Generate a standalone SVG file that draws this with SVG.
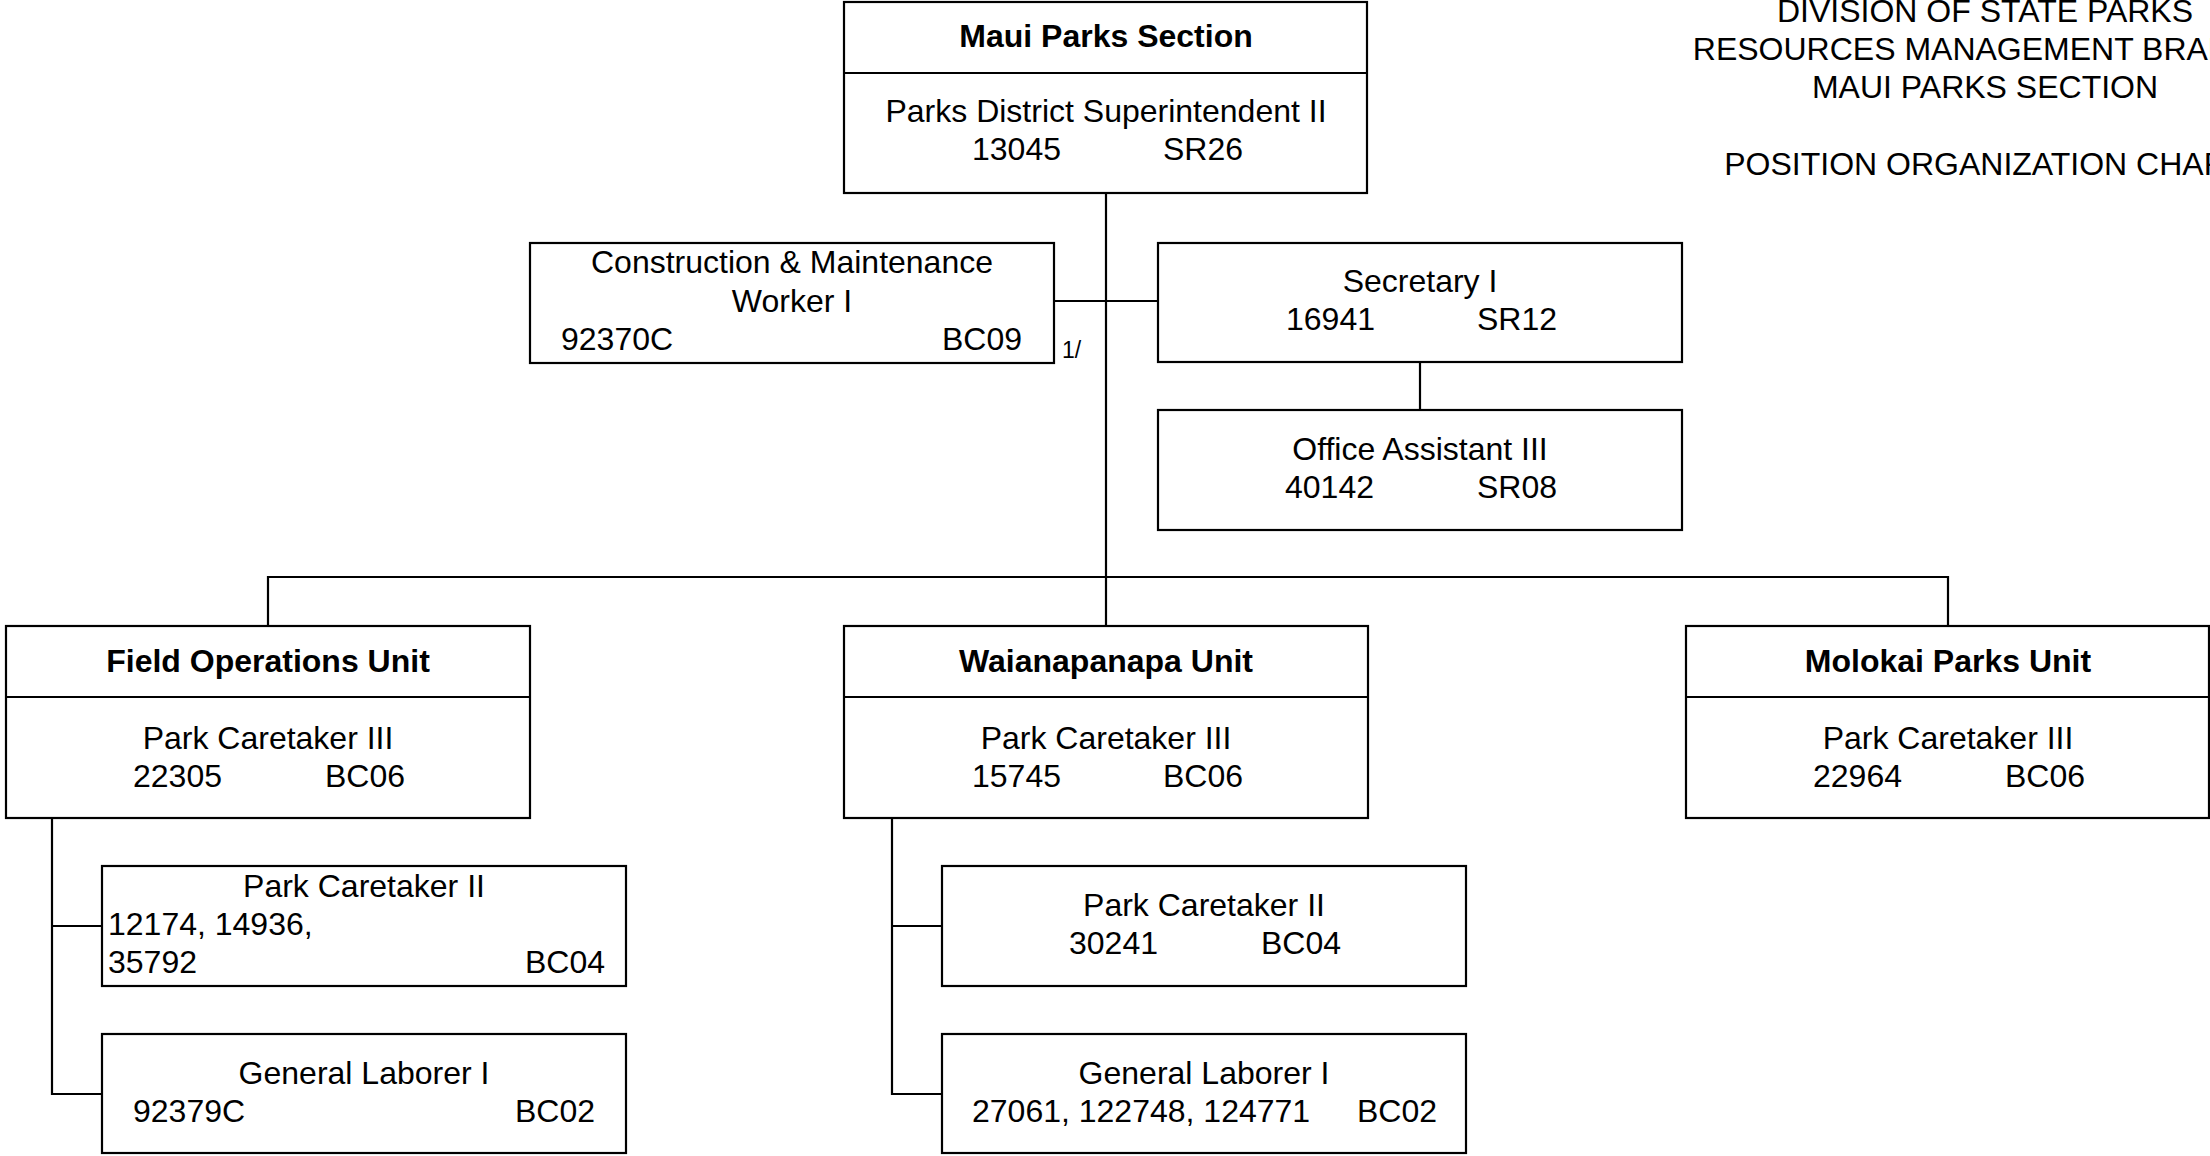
<svg xmlns="http://www.w3.org/2000/svg" width="2210" height="1156" viewBox="0 0 2210 1156">
<style>
  .box { fill: #ffffff; stroke: #000000; stroke-width: 2.2; }
  .ln { fill: none; stroke: #000000; stroke-width: 2.2; }
  text { font-family: "Liberation Sans", Arial, sans-serif; font-size: 32px; fill: #000000; }
  .b { font-weight: bold; }
  .c { text-anchor: middle; }
  .e { text-anchor: end; }
  .sm { font-size: 23px; }
</style>
<rect width="2210" height="1156" fill="#ffffff"/>

<g id="header">
  <text class="c" x="1985" y="22">DIVISION OF STATE PARKS</text>
  <text class="c" x="1985" y="60">RESOURCES MANAGEMENT BRANCH</text>
  <text class="c" x="1985" y="98">MAUI PARKS SECTION</text>
  <text class="c" x="1985" y="175">POSITION ORGANIZATION CHART</text>
</g>

<g id="connectors">
  <line class="ln" x1="1106" y1="193" x2="1106" y2="626"/>
  <line class="ln" x1="1054" y1="301" x2="1158" y2="301"/>
  <line class="ln" x1="1420" y1="362" x2="1420" y2="410"/>
  <polyline class="ln" points="268,626 268,577 1948,577 1948,626"/>
  <polyline class="ln" points="52,818 52,1094 102,1094"/>
  <line class="ln" x1="52" y1="926" x2="102" y2="926"/>
  <polyline class="ln" points="892,818 892,1094 942,1094"/>
  <line class="ln" x1="892" y1="926" x2="942" y2="926"/>
  <text class="sm" x="1062" y="358">1/</text>
</g>

<g id="maui-parks-section">
  <rect class="box" x="844" y="2" width="523" height="191"/>
  <line class="ln" x1="844" y1="73" x2="1367" y2="73"/>
  <text class="b c" x="1106" y="47">Maui Parks Section</text>
  <text class="c" x="1106" y="122">Parks District Superintendent II</text>
  <text x="972" y="160">13045</text>
  <text x="1163" y="160">SR26</text>
</g>

<g id="construction-maintenance-worker">
  <rect class="box" x="530" y="243" width="524" height="120"/>
  <text class="c" x="792" y="273">Construction &amp; Maintenance</text>
  <text class="c" x="792" y="312">Worker I</text>
  <text x="561" y="350">92370C</text>
  <text class="e" x="1022" y="350">BC09</text>
</g>

<g id="secretary">
  <rect class="box" x="1158" y="243" width="524" height="119"/>
  <text class="c" x="1420" y="292">Secretary I</text>
  <text x="1286" y="330">16941</text>
  <text x="1477" y="330">SR12</text>
</g>

<g id="office-assistant">
  <rect class="box" x="1158" y="410" width="524" height="120"/>
  <text class="c" x="1420" y="460">Office Assistant III</text>
  <text x="1285" y="498">40142</text>
  <text x="1477" y="498">SR08</text>
</g>

<g id="field-operations-unit">
  <rect class="box" x="6" y="626" width="524" height="192"/>
  <line class="ln" x1="6" y1="697" x2="530" y2="697"/>
  <text class="b c" x="268" y="672">Field Operations Unit</text>
  <text class="c" x="268" y="749">Park Caretaker III</text>
  <text x="133" y="787">22305</text>
  <text x="325" y="787">BC06</text>
</g>

<g id="field-park-caretaker-ii">
  <rect class="box" x="102" y="866" width="524" height="120"/>
  <text class="c" x="364" y="897">Park Caretaker II</text>
  <text x="108" y="935">12174, 14936,</text>
  <text x="108" y="973">35792</text>
  <text class="e" x="605" y="973">BC04</text>
</g>

<g id="field-general-laborer">
  <rect class="box" x="102" y="1034" width="524" height="119"/>
  <text class="c" x="364" y="1084">General Laborer I</text>
  <text x="133" y="1122">92379C</text>
  <text class="e" x="595" y="1122">BC02</text>
</g>

<g id="waianapanapa-unit">
  <rect class="box" x="844" y="626" width="524" height="192"/>
  <line class="ln" x1="844" y1="697" x2="1368" y2="697"/>
  <text class="b c" x="1106" y="672">Waianapanapa Unit</text>
  <text class="c" x="1106" y="749">Park Caretaker III</text>
  <text x="972" y="787">15745</text>
  <text x="1163" y="787">BC06</text>
</g>

<g id="wai-park-caretaker-ii">
  <rect class="box" x="942" y="866" width="524" height="120"/>
  <text class="c" x="1204" y="916">Park Caretaker II</text>
  <text x="1069" y="954">30241</text>
  <text x="1261" y="954">BC04</text>
</g>

<g id="wai-general-laborer">
  <rect class="box" x="942" y="1034" width="524" height="119"/>
  <text class="c" x="1204" y="1084">General Laborer I</text>
  <text x="972" y="1122">27061, 122748, 124771</text>
  <text x="1357" y="1122">BC02</text>
</g>

<g id="molokai-parks-unit">
  <rect class="box" x="1686" y="626" width="523" height="192"/>
  <line class="ln" x1="1686" y1="697" x2="2209" y2="697"/>
  <text class="b c" x="1948" y="672">Molokai Parks Unit</text>
  <text class="c" x="1948" y="749">Park Caretaker III</text>
  <text x="1813" y="787">22964</text>
  <text x="2005" y="787">BC06</text>
</g>
</svg>
